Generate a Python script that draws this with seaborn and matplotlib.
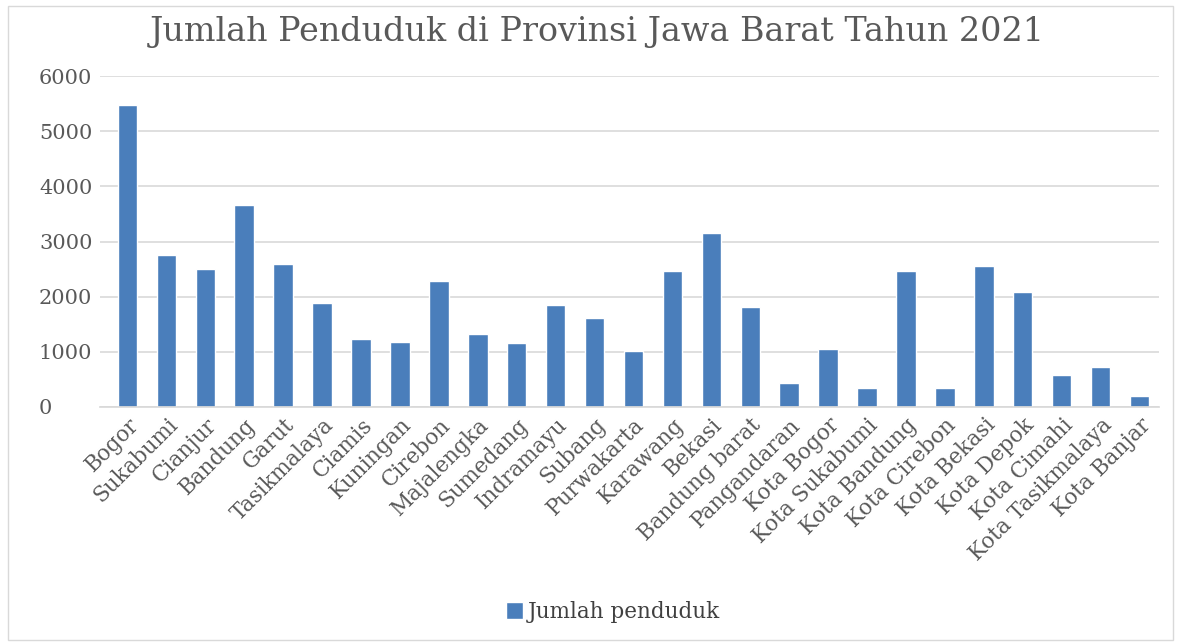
import matplotlib
matplotlib.use("Agg")
import matplotlib.pyplot as plt
import seaborn as sns
import pandas as pd
from matplotlib.patches import Rectangle

categories = ["Bogor", "Sukabumi", "Cianjur", "Bandung", "Garut", "Tasikmalaya",
              "Ciamis", "Kuningan", "Cirebon", "Majalengka", "Sumedang", "Indramayu",
              "Subang", "Purwakarta", "Karawang", "Bekasi", "Bandung barat",
              "Pangandaran", "Kota Bogor", "Kota Sukabumi", "Kota Bandung",
              "Kota Cirebon", "Kota Bekasi", "Kota Depok", "Kota Cimahi",
              "Kota Tasikmalaya", "Kota Banjar"]
values = [5480, 2760, 2500, 3670, 2600, 1890, 1240, 1180, 2290, 1320, 1160, 1850,
          1620, 1010, 2470, 3160, 1820, 440, 1060, 350, 2460, 345, 2560, 2090,
          580, 730, 200]
series_name = "Jumlah penduduk"
yticks = [0, 1000, 2000, 3000, 4000, 5000, 6000]
title = "Jumlah Penduduk di Provinsi Jawa Barat Tahun 2021"

sns.set_theme(style="white")
plt.rcParams['font.family'] = ['DejaVu Serif']

df = pd.DataFrame({"kab": categories, "val": values})

W, H = 1179, 644
fig = plt.figure(figsize=(W / 100, H / 100), dpi=100)
ax = fig.add_axes([100 / W, 1 - 407 / H, (1159 - 100) / W, (407 - 76) / H])

sns.barplot(data=df, x="kab", y="val", color="#4A7EBB", width=0.5,
            saturation=1, ax=ax, label=series_name)

ax.set_ylim(0, 6000)
ax.set_yticks(yticks)
ax.set_xlim(-0.705, len(categories) - 0.5)
ax.yaxis.grid(True, color="#D9D9D9", linewidth=1.2)
ax.set_axisbelow(True)
for s in ["top", "right", "left"]:
    ax.spines[s].set_visible(False)
ax.spines["bottom"].set_color("#D9D9D9")
ax.set_xlabel("")
ax.set_ylabel("")
ax.tick_params(axis="y", labelsize=15, colors="#595959", length=0, pad=44)
ax.tick_params(axis="x", labelsize=15.5, colors="#595959", length=0, pad=5)
plt.setp(ax.get_yticklabels(), ha="left")
plt.setp(ax.get_xticklabels(), rotation=45, ha="right", rotation_mode="anchor")
if ax.get_legend() is not None:
    ax.get_legend().remove()

fig.text(597 / W, 1 - 32 / H, title, ha="center", va="center", fontsize=24,
         color="#595959")

handles, labels = ax.get_legend_handles_labels()
fig.legend(handles, labels, loc="center", bbox_to_anchor=(613 / W, 1 - 612 / H),
           frameon=False, fontsize=15.5, handlelength=0.8, handleheight=0.8,
           handletextpad=0.2, labelcolor="#404040")

fig.patches.append(Rectangle((8 / W, 4 / H), 1165 / W, 634 / H,
                             transform=fig.transFigure, fill=False,
                             edgecolor="#D9D9D9", linewidth=1))

fig.savefig("out.png", dpi=100, facecolor="white")
